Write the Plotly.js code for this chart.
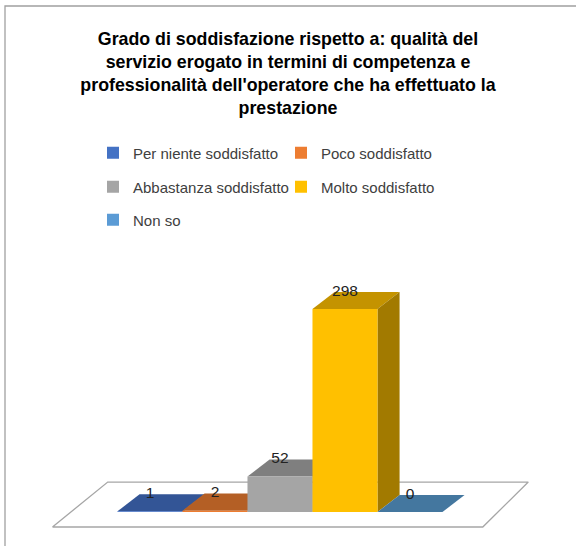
<!DOCTYPE html>
<html><head><meta charset="utf-8">
<script src="https://cdn.plot.ly/plotly-3.0.1.min.js"></script>
<style>html,body{margin:0;padding:0;background:#fff}#chart{width:576px;height:546px}</style>
</head><body><div id="chart"></div>
<script>
// ---- data ----
const categories = ["Per niente soddisfatto", "Poco soddisfatto", "Abbastanza soddisfatto", "Molto soddisfatto", "Non so"];
const values = [1, 2, 52, 298, 0];
const legendRows = ["legend", "legend", "legend2", "legend2", "legend3"];
const titleText = "<b>Grado di soddisfazione rispetto a: qualità del<br>servizio erogato in termini di competenza e<br>professionalità dell'operatore che ha effettuato la<br>prestazione</b>";

// ---- style ----
const frontColors = ["#4472C4", "#ED7D31", "#A5A5A5", "#FFC000", "#5B9BD5"];
const topColors   = ["#335596", "#B45F25", "#7F7F7F", "#C49300", "#44779F"];
const sideColors  = ["#2A4A82", "#9C521F", "#6E6E6E", "#A27A00", "#3A6788"];
const FONT = "Liberation Sans, Arial, sans-serif";
const DX = 0.34, DY = 25;                 // 3D depth offset (x units, y units)
const FLOOR_FRONT = -22, FLOOR_BACK = 44;  // floor depth in y units
const FLOOR_PAD_L = 1.0, FLOOR_PAD_R = 0.62, FLOOR_SHIFT_L = 0.85, FLOOR_SHIFT_R = 0.70;
const xRange = [-1.692, 6.308], yRange = [-41.1, 384.7];

const traces = [];
const n = categories.length;
const xs = categories.map((c, i) => i);

// floor
const fl = -0.5 - FLOOR_PAD_L, fr = (n - 0.5) + FLOOR_PAD_R;
traces.push({
  type: "scatter", mode: "lines", fill: "toself", fillcolor: "#FFFFFF",
  x: [fl, fr, fr + FLOOR_SHIFT_R, fl + FLOOR_SHIFT_L, fl],
  y: [FLOOR_FRONT, FLOOR_FRONT, FLOOR_BACK, FLOOR_BACK, FLOOR_FRONT],
  line: {color: "#A6A6A6", width: 1.3}, hoverinfo: "skip", showlegend: false
});

// top and side faces (drawn beneath the front faces)
xs.forEach((x, i) => {
  const v = values[i];
  traces.push({
    type: "scatter", mode: "lines", fill: "toself", fillcolor: topColors[i],
    x: [x - 0.5, x + 0.5, x + 0.5 + DX, x - 0.5 + DX, x - 0.5],
    y: [v, v, v + DY, v + DY, v],
    line: {width: 0, color: topColors[i]}, hoverinfo: "skip", showlegend: false
  });
  traces.push({
    type: "scatter", mode: "lines", fill: "toself", fillcolor: sideColors[i],
    x: [x + 0.5, x + 0.5, x + 0.5 + DX, x + 0.5 + DX, x + 0.5],
    y: [0, v, v + DY, DY, 0],
    line: {width: 0, color: sideColors[i]}, hoverinfo: "skip", showlegend: false
  });
});

// front faces: the bars
xs.forEach((x, i) => {
  traces.push({
    type: "bar", name: categories[i], x: [x], y: [values[i]], width: 1,
    marker: {color: frontColors[i], line: {width: 0}},
    xaxis: "x2", yaxis: "y2", legend: legendRows[i]
  });
});

// value labels
traces.push({
  type: "scatter", mode: "text", x: xs, y: values.map(v => v + DY),
  text: values.map(String), textposition: "middle center",
  textfont: {family: FONT, size: 15.5, color: "#222222"},
  xaxis: "x2", yaxis: "y2", hoverinfo: "skip", showlegend: false
});

const PL = 40, PR = 16, PT = 250, PB = 6, W = 576, H = 546;
const pw = W - PL - PR, ph = H - PT - PB;
const px = p => (p - PL) / pw;
const py = p => (H - PB - p) / ph;

const hidden = {showgrid: false, zeroline: false, showticklabels: false, showline: false, ticks: "", fixedrange: true};
const legendBase = {orientation: "h", xanchor: "left", yanchor: "middle", entrywidth: 143,
  font: {family: FONT, size: 15, color: "#404040"}, bgcolor: "rgba(0,0,0,0)", traceorder: "normal"};

const layout = {
  width: W, height: H,
  margin: {l: PL, r: PR, t: PT, b: PB},
  paper_bgcolor: "#FFFFFF", plot_bgcolor: "rgba(0,0,0,0)",
  title: {text: titleText, font: {family: FONT, size: 17.8, color: "#000000"},
          x: 0.5, xref: "container", xanchor: "center", y: 1 - 45 / H, yref: "container", yanchor: "top"},
  barmode: "overlay",
  xaxis: Object.assign({range: xRange}, hidden),
  yaxis: Object.assign({range: yRange}, hidden),
  xaxis2: Object.assign({range: xRange, overlaying: "x"}, hidden),
  yaxis2: Object.assign({range: yRange, overlaying: "y"}, hidden),
  legend: Object.assign({x: px(93), y: py(153)}, legendBase),
  legend2: Object.assign({x: px(93), y: py(187)}, legendBase),
  legend3: Object.assign({x: px(93), y: py(220)}, legendBase),
  shapes: [{type: "rect", xref: "paper", yref: "paper",
            x0: px(5), x1: px(582), y0: py(552), y1: py(6),
            line: {color: "#A0A0A0", width: 1.3}, fillcolor: "rgba(0,0,0,0)", layer: "below"}],
  showlegend: true
};

Plotly.newPlot("chart", traces, layout, {displayModeBar: false, staticPlot: true});
</script></body></html>
